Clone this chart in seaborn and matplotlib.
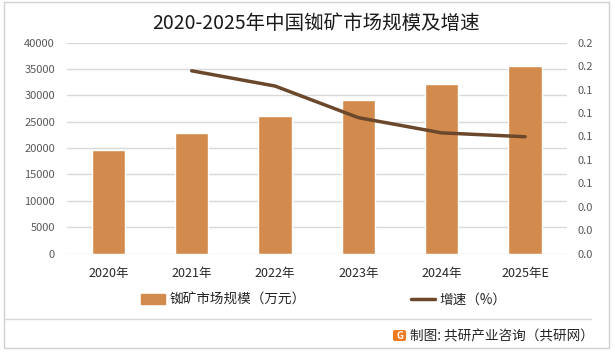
import matplotlib
matplotlib.use("Agg")
import matplotlib.pyplot as plt
import seaborn as sns
import pandas as pd
import numpy as np
from matplotlib.patches import Rectangle, FancyBboxPatch
from matplotlib.lines import Line2D
from matplotlib.ticker import FixedLocator, FuncFormatter

years = ["2020年", "2021年", "2022年", "2023年", "2024年", "2025年E"]
market_size = [19700, 22900, 26100, 29200, 32250, 35500]
growth_years = ["2021年", "2022年", "2023年", "2024年", "2025年E"]
growth_rate = [0.156, 0.143, 0.116, 0.103, 0.0997]

title = "2020-2025年中国铷矿市场规模及增速"
bar_label = "铷矿市场规模（万元）"
line_label = "增速（%）"
source = "制图: 共研产业咨询（共研网）"

sns.set_theme(style="white")
plt.rcParams['font.family'] = ['Noto Sans CJK SC', 'DejaVu Sans']

BAR_C = "#D38B4D"
LINE_C = "#6B482B"
GRID_C = "#D9D9D9"
TICK_C = "#595959"

fig = plt.figure(figsize=(6.15, 3.54), dpi=100)
W, H = 615, 354
ax = fig.add_axes([66.7 / W, 1 - 253.5 / H, 500 / W, (253.5 - 42.7) / H])

df = pd.DataFrame({"year": years, "size": market_size})
sns.barplot(data=df, x="year", y="size", ax=ax, color=BAR_C, width=0.4,
            saturation=1, zorder=3)
ax.set_ylim(0, 40000)
ax.set_xlim(-0.5, len(years) - 0.5)
ax.yaxis.set_major_locator(FixedLocator(np.arange(0, 40001, 5000)))
ax.yaxis.grid(True, color=GRID_C, linewidth=1)
ax.set_axisbelow(True)
for s in ax.spines.values():
    s.set_visible(False)
ax.set_xlabel("")
ax.set_ylabel("")
ax.tick_params(axis="y", length=0, labelsize=8, labelcolor=TICK_C, pad=8.5)
ax.tick_params(axis="x", length=0, labelsize=9, labelcolor="#262626", pad=10)

ax2 = ax.twinx()
xpos = [years.index(y) for y in growth_years]
sns.lineplot(x=xpos, y=growth_rate, ax=ax2, color=LINE_C, linewidth=2.5, zorder=4)
ax2.set_ylim(0, 0.18)
ax2.yaxis.set_major_locator(FixedLocator(np.arange(0, 0.1801, 0.02)))
ax2.yaxis.set_major_formatter(FuncFormatter(lambda v, p: f"{v + 1e-9:.1f}"))
ax2.tick_params(axis="y", length=0, labelsize=8, labelcolor=TICK_C, pad=8)
for s in ax2.spines.values():
    s.set_visible(False)
ax2.grid(False)
ax2.set_ylabel("")

# title
fig.text(316 / W, 1 - 23 / H, title, ha="center", va="center", fontsize=14, color="#1a1a1a")

# legend
handles = [Rectangle((0, 0), 1, 1, color=BAR_C),
           Line2D([0], [0], color=LINE_C, linewidth=2.5)]
fig.legend(handles, [bar_label, line_label], loc="center",
           bbox_to_anchor=(323.5 / W, 1 - 300 / H), ncol=2, frameon=False,
           fontsize=9.8, handlelength=1.8, handleheight=0.7, handletextpad=0.3,
           columnspacing=7.75, labelcolor="#262626")

# separator line
fig.add_artist(Line2D([4 / W, 591 / W], [1 - 319.3 / H, 1 - 319.3 / H],
                      color="#D9D9D9", linewidth=1))

# source with logo
fig.add_artist(FancyBboxPatch((393 / W, 1 - 341 / H), 13 / W, 11 / H,
                              boxstyle="round,pad=0,rounding_size=0.004",
                              facecolor="#F07A20", edgecolor="none"))
fig.text(399.5 / W, 1 - 336 / H, "G", ha="center", va="center", fontsize=7,
         color="white", fontweight="bold")
fig.text(410 / W, 1 - 336.7 / H, source, ha="left", va="center", fontsize=9.8,
         color="#262626")

# outer border
fig.add_artist(Rectangle((4 / W, 1 - 348.3 / H), 605 / W, 346 / H, fill=False,
                         edgecolor="#D0D0D0", linewidth=1))

fig.savefig("out.png", dpi=100)
